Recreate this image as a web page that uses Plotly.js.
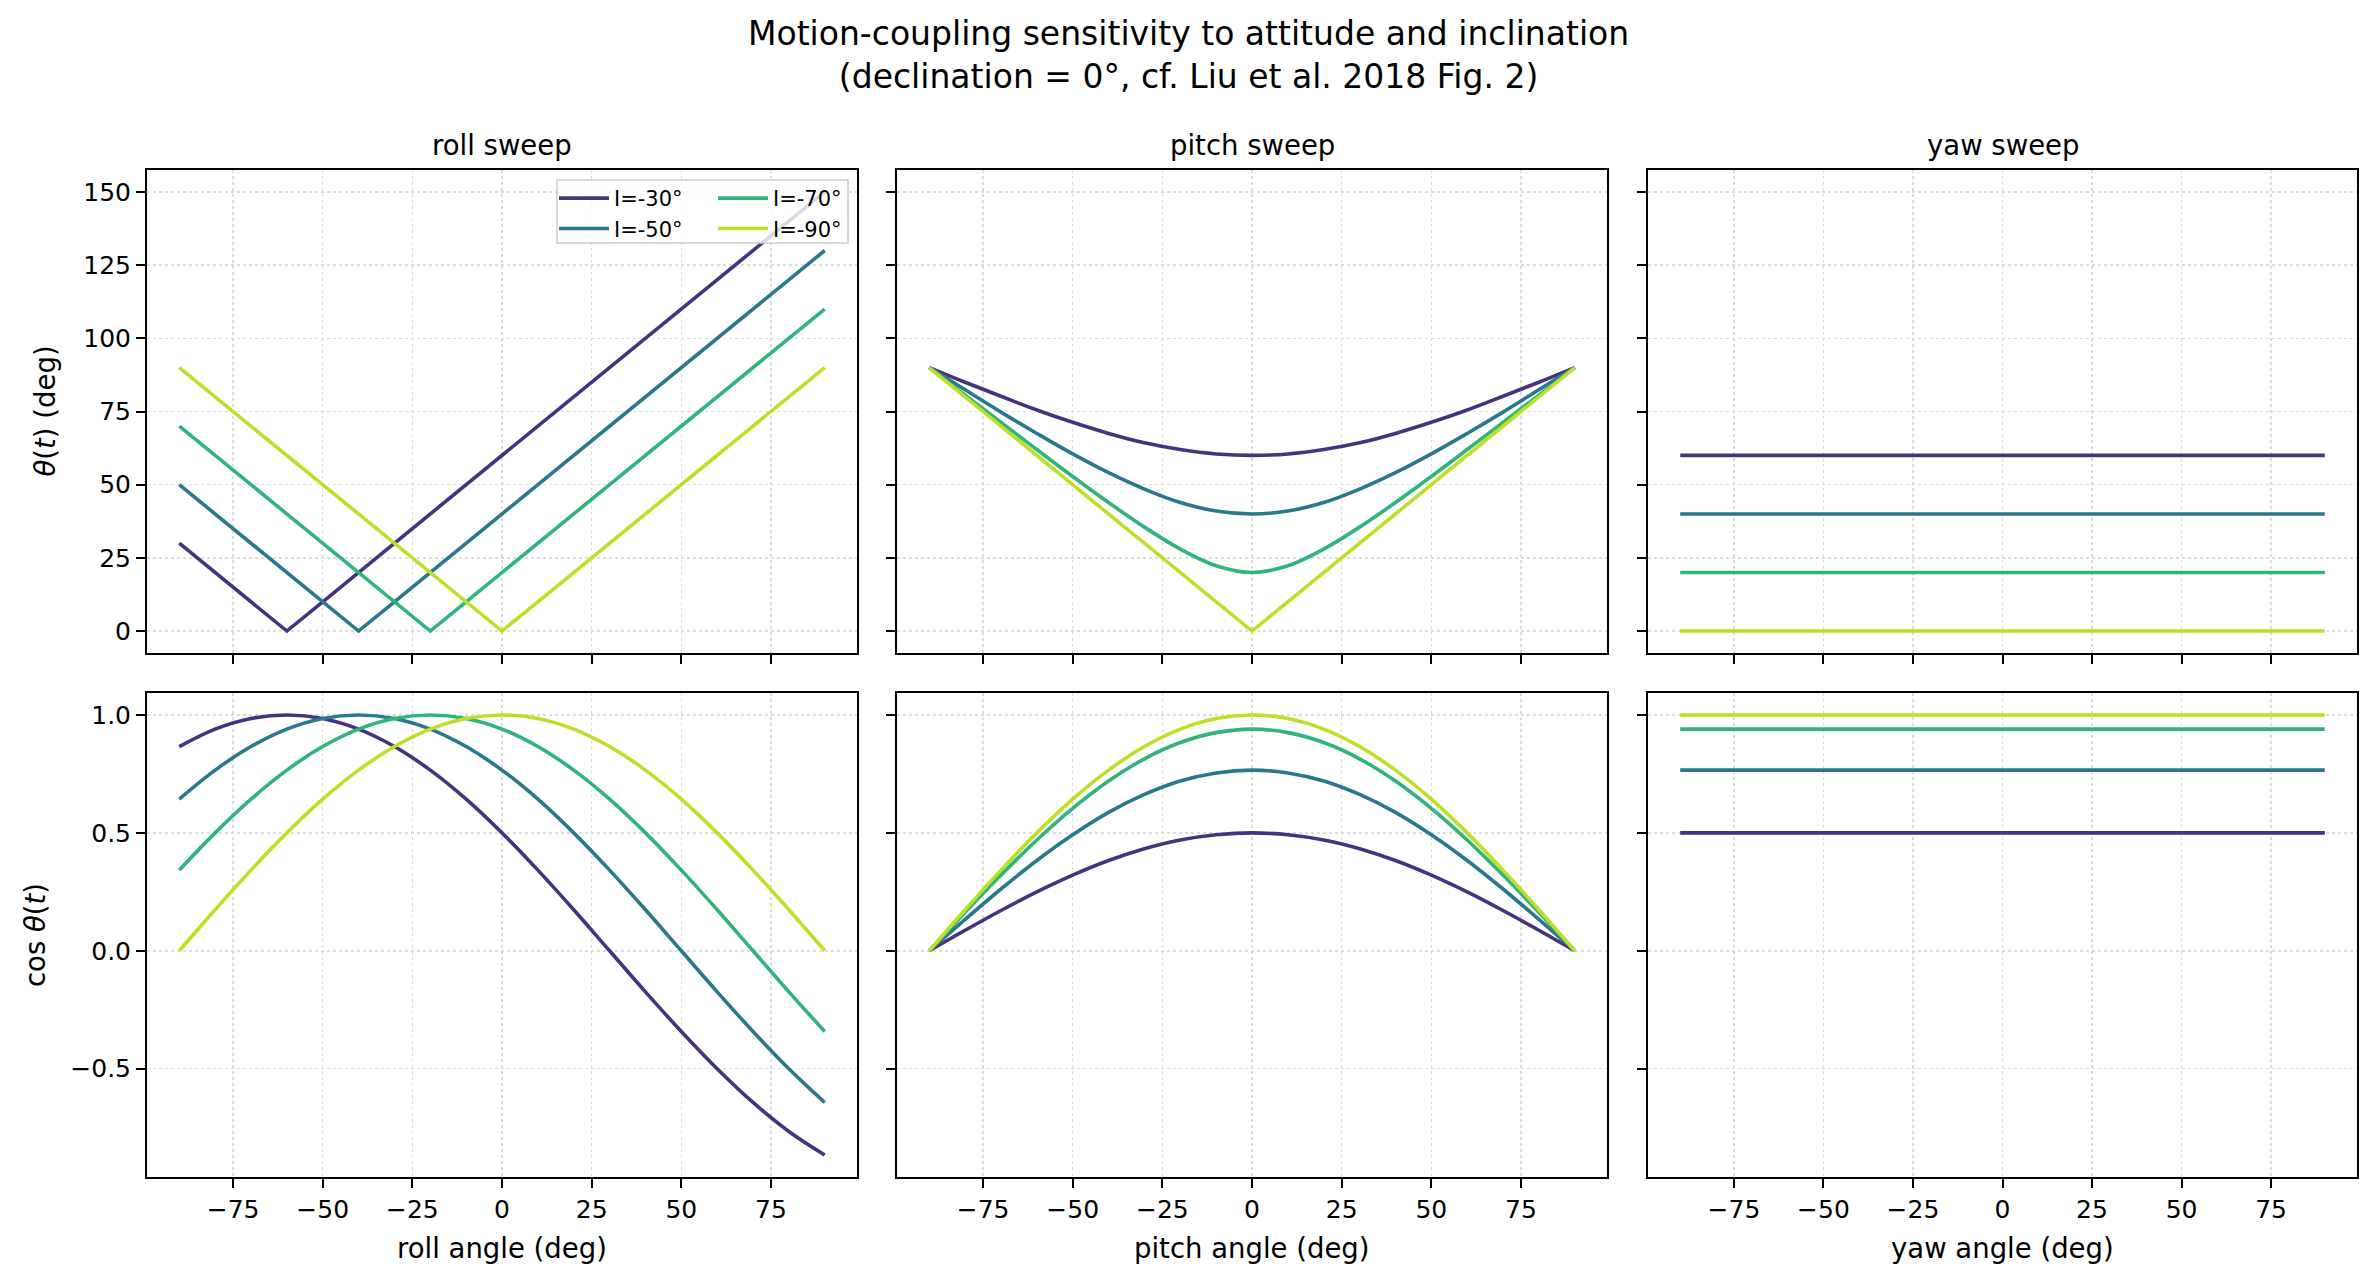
<!DOCTYPE html>
<html>
<head>
<meta charset="utf-8">
<script src="https://cdn.plot.ly/plotly-3.0.1.min.js"></script>
<style>
  html, body { margin: 0; padding: 0; background: #fff; }
  #chart { width: 2377px; height: 1284px; }
</style>
</head>
<body>
<div id="chart"></div>
<script>
// Sweep angle (deg), shared by roll and pitch panels
const ANGLE = [-90, -80, -70, -60, -50, -40, -30, -20, -10, 0, 10, 20, 30, 40, 50, 60, 70, 80, 90];
const YAW_ANGLE = [-90, 90];

const LABELS = ['I=-30°', 'I=-50°', 'I=-70°', 'I=-90°'];
const COLORS = ['#46327e', '#2a788e', '#2fb47c', '#bddf26'];

// roll sweep, theta (deg)
const ROLL_THETA_30 = [30, 20, 10, 0, 10, 20, 30, 40, 50, 60, 70, 80, 90, 100, 110, 120, 130, 140, 150];
const ROLL_THETA_50 = [50, 40, 30, 20, 10, 0, 10, 20, 30, 40, 50, 60, 70, 80, 90, 100, 110, 120, 130];
const ROLL_THETA_70 = [70, 60, 50, 40, 30, 20, 10, 0, 10, 20, 30, 40, 50, 60, 70, 80, 90, 100, 110];
const ROLL_THETA_90 = [90, 80, 70, 60, 50, 40, 30, 20, 10, 0, 10, 20, 30, 40, 50, 60, 70, 80, 90];

// roll sweep, cos theta
const ROLL_COS_30 = [0.866, 0.940, 0.985, 1.000, 0.985, 0.940, 0.866, 0.766, 0.643, 0.500, 0.342, 0.174, 0.000, -0.174, -0.342, -0.500, -0.643, -0.766, -0.866];
const ROLL_COS_50 = [0.643, 0.766, 0.866, 0.940, 0.985, 1.000, 0.985, 0.940, 0.866, 0.766, 0.643, 0.500, 0.342, 0.174, 0.000, -0.174, -0.342, -0.500, -0.643];
const ROLL_COS_70 = [0.342, 0.500, 0.643, 0.766, 0.866, 0.940, 0.985, 1.000, 0.985, 0.940, 0.866, 0.766, 0.643, 0.500, 0.342, 0.174, 0.000, -0.174, -0.342];
const ROLL_COS_90 = [0.000, 0.174, 0.342, 0.500, 0.643, 0.766, 0.866, 0.940, 0.985, 1.000, 0.985, 0.940, 0.866, 0.766, 0.643, 0.500, 0.342, 0.174, 0.000];

// pitch sweep, theta (deg)
const PITCH_THETA_30 = [90, 85.0, 80.2, 75.5, 71.3, 67.5, 64.3, 62.0, 60.5, 60, 60.5, 62.0, 64.3, 67.5, 71.3, 75.5, 80.2, 85.0, 90];
const PITCH_THETA_50 = [90, 82.4, 74.8, 67.5, 60.5, 54.1, 48.5, 43.9, 41.0, 40, 41.0, 43.9, 48.5, 54.1, 60.5, 67.5, 74.8, 82.4, 90];
const PITCH_THETA_70 = [90, 80.6, 71.3, 62.0, 52.8, 43.9, 35.5, 28.0, 22.3, 20, 22.3, 28.0, 35.5, 43.9, 52.8, 62.0, 71.3, 80.6, 90];
const PITCH_THETA_90 = [90, 80, 70, 60, 50, 40, 30, 20, 10, 0, 10, 20, 30, 40, 50, 60, 70, 80, 90];

// pitch sweep, cos theta
const PITCH_COS_30 = [0.000, 0.087, 0.171, 0.250, 0.321, 0.383, 0.433, 0.470, 0.492, 0.500, 0.492, 0.470, 0.433, 0.383, 0.321, 0.250, 0.171, 0.087, 0.000];
const PITCH_COS_50 = [0.000, 0.133, 0.262, 0.383, 0.492, 0.587, 0.663, 0.720, 0.754, 0.766, 0.754, 0.720, 0.663, 0.587, 0.492, 0.383, 0.262, 0.133, 0.000];
const PITCH_COS_70 = [0.000, 0.163, 0.321, 0.470, 0.604, 0.720, 0.814, 0.883, 0.925, 0.940, 0.925, 0.883, 0.814, 0.720, 0.604, 0.470, 0.321, 0.163, 0.000];
const PITCH_COS_90 = [0.000, 0.174, 0.342, 0.500, 0.643, 0.766, 0.866, 0.940, 0.985, 1.000, 0.985, 0.940, 0.866, 0.766, 0.643, 0.500, 0.342, 0.174, 0.000];

// yaw sweep: flat lines
const YAW_THETA_30 = [60, 60];
const YAW_THETA_50 = [40, 40];
const YAW_THETA_70 = [20, 20];
const YAW_THETA_90 = [0, 0];
const YAW_COS_30 = [0.500, 0.500];
const YAW_COS_50 = [0.766, 0.766];
const YAW_COS_70 = [0.940, 0.940];
const YAW_COS_90 = [1.000, 1.000];

const X_TICKS = [-75, -50, -25, 0, 25, 50, 75];
const X_TICKTEXT = ['−75', '−50', '−25', '0', '25', '50', '75'];
const THETA_TICKS = [0, 25, 50, 75, 100, 125, 150];
const COS_TICKS = [-0.5, 0, 0.5, 1];
const COS_TICKTEXT = ['−0.5', '0.0', '0.5', '1.0'];

const FONT = 'DejaVu Sans, Liberation Sans, sans-serif';
const W = 2377, H = 1284;

// panel pixel boxes, matched to the reference
const COLS = [[147, 857], [897, 1607], [1648, 2357]];
const ROWS = [[170, 653], [693, 1177]];
const px = v => v / W;
const py = v => 1 - v / H;

const panels = [
  { x: ANGLE, ys: [ROLL_THETA_30, ROLL_THETA_50, ROLL_THETA_70, ROLL_THETA_90], shape: ['linear', 'linear', 'linear', 'linear'] },
  { x: ANGLE, ys: [PITCH_THETA_30, PITCH_THETA_50, PITCH_THETA_70, PITCH_THETA_90], shape: ['spline', 'spline', 'spline', 'linear'] },
  { x: YAW_ANGLE, ys: [YAW_THETA_30, YAW_THETA_50, YAW_THETA_70, YAW_THETA_90], shape: ['linear', 'linear', 'linear', 'linear'] },
  { x: ANGLE, ys: [ROLL_COS_30, ROLL_COS_50, ROLL_COS_70, ROLL_COS_90], shape: ['spline', 'spline', 'spline', 'spline'] },
  { x: ANGLE, ys: [PITCH_COS_30, PITCH_COS_50, PITCH_COS_70, PITCH_COS_90], shape: ['spline', 'spline', 'spline', 'spline'] },
  { x: YAW_ANGLE, ys: [YAW_COS_30, YAW_COS_50, YAW_COS_70, YAW_COS_90], shape: ['linear', 'linear', 'linear', 'linear'] },
];

// matplotlib legend is 2 columns: first two series in legend, last two in legend2
const LEGEND_OF = ['legend', 'legend', 'legend2', 'legend2'];

const traces = [];
panels.forEach((p, k) => {
  const ax = k === 0 ? '' : String(k + 1);
  p.ys.forEach((y, i) => {
    traces.push({
      x: p.x, y,
      type: 'scatter',
      mode: 'lines',
      name: LABELS[i],
      xaxis: 'x' + ax,
      yaxis: 'y' + ax,
      showlegend: k === 0,
      legend: LEGEND_OF[i],
      line: { color: COLORS[i], width: 3.6, shape: p.shape[i], smoothing: 1 },
      hoverinfo: 'skip',
    });
  });
});

function axisBase() {
  return {
    showline: true, mirror: true, linecolor: '#000', linewidth: 2,
    ticks: 'outside', ticklen: 9, tickwidth: 2, tickcolor: '#000',
    showgrid: true, gridcolor: '#dddddd', gridwidth: 1.5, griddash: 'dot',
    zeroline: false, automargin: false,
    tickfont: { family: FONT, size: 25, color: '#000' },
  };
}

function legendAt(xPix) {
  return {
    orientation: 'v',
    x: px(xPix), y: py(178), xanchor: 'left', yanchor: 'top',
    bgcolor: 'rgba(0,0,0,0)', borderwidth: 0,
    font: { family: FONT, size: 21, color: '#000' },
    itemwidth: 50,
    tracegroupgap: 0,
    traceorder: 'normal',
  };
}

const layout = {
  width: W, height: H,
  margin: { l: 0, r: 0, t: 0, b: 0 },
  paper_bgcolor: '#fff',
  plot_bgcolor: '#fff',
  font: { family: FONT, color: '#000' },
  showlegend: true,
  legend: legendAt(554),
  legend2: legendAt(713),
  // legend frame (semi-transparent like matplotlib's framealpha)
  shapes: [{
    type: 'rect', xref: 'paper', yref: 'paper', layer: 'above',
    x0: px(557), x1: px(848), y0: py(243), y1: py(180),
    fillcolor: 'rgba(255,255,255,0.8)',
    line: { color: '#cccccc', width: 1.5 },
  }],
  annotations: [],
};

for (let k = 0; k < 6; k++) {
  const ax = k === 0 ? '' : String(k + 1);
  const col = k % 3, row = Math.floor(k / 3);
  const xa = axisBase();
  xa.domain = [px(COLS[col][0]), px(COLS[col][1])];
  xa.range = [-99, 99];
  xa.tickmode = 'array';
  xa.tickvals = X_TICKS;
  xa.ticktext = X_TICKTEXT;
  xa.showticklabels = row === 1;
  xa.anchor = 'y' + ax;
  const ya = axisBase();
  ya.domain = [py(ROWS[row][1]), py(ROWS[row][0])];
  ya.anchor = 'x' + ax;
  ya.tickmode = 'array';
  if (row === 0) {
    ya.range = [-7.5, 157.5];
    ya.tickvals = THETA_TICKS;
  } else {
    ya.range = [-0.959, 1.093];
    ya.tickvals = COS_TICKS;
    ya.ticktext = COS_TICKTEXT;
  }
  ya.showticklabels = col === 0;
  layout['xaxis' + ax] = xa;
  layout['yaxis' + ax] = ya;
}

const SUB_TITLES = ['roll sweep', 'pitch sweep', 'yaw sweep'];
const X_TITLES = ['roll angle (deg)', 'pitch angle (deg)', 'yaw angle (deg)'];
const LABEL_SIZE = 27.5;

COLS.forEach((c, i) => {
  const cx = px((c[0] + c[1]) / 2);
  layout.annotations.push({
    text: SUB_TITLES[i], xref: 'paper', yref: 'paper',
    x: cx, y: py(145), xanchor: 'center', yanchor: 'middle',
    showarrow: false, font: { family: FONT, size: LABEL_SIZE, color: '#000' },
  });
  layout.annotations.push({
    text: X_TITLES[i], xref: 'paper', yref: 'paper',
    x: cx, y: py(1248), xanchor: 'center', yanchor: 'middle',
    showarrow: false, font: { family: FONT, size: LABEL_SIZE, color: '#000' },
  });
});

layout.annotations.push({
  text: '<i>θ</i>(<i>t</i>) (deg)', xref: 'paper', yref: 'paper',
  x: px(45), y: py((ROWS[0][0] + ROWS[0][1]) / 2), xanchor: 'center', yanchor: 'middle',
  textangle: -90, showarrow: false, font: { family: FONT, size: LABEL_SIZE, color: '#000' },
});
layout.annotations.push({
  text: 'cos <i>θ</i>(<i>t</i>)', xref: 'paper', yref: 'paper',
  x: px(35), y: py((ROWS[1][0] + ROWS[1][1]) / 2), xanchor: 'center', yanchor: 'middle',
  textangle: -90, showarrow: false, font: { family: FONT, size: LABEL_SIZE, color: '#000' },
});

layout.annotations.push({
  text: 'Motion-coupling sensitivity to attitude and inclination<br>(declination = 0°, cf. Liu et al. 2018 Fig. 2)',
  xref: 'paper', yref: 'paper', x: 0.5, y: py(55), xanchor: 'center', yanchor: 'middle',
  showarrow: false, font: { family: FONT, size: 33, color: '#000' },
});

Plotly.newPlot('chart', traces, layout, { displayModeBar: false, staticPlot: true });
</script>
</body>
</html>
